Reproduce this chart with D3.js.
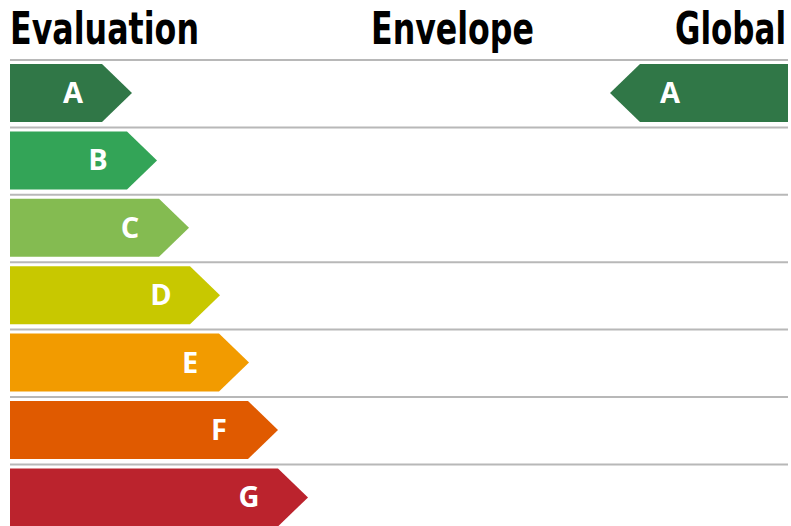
<!DOCTYPE html>
<html>
<head>
<meta charset="utf-8">
<script src="https://cdn.jsdelivr.net/npm/d3@7"></script>
<style>
  html, body { margin: 0; padding: 0; background: #fff; }
  svg { display: block; }
</style>
</head>
<body>
<svg id="chart" width="791" height="526"></svg>
<script>
// ---- data ----
const categories = ["A", "B", "C", "D", "E", "F", "G"];
const barLengths = [122, 147, 179, 210, 239, 268, 298];   // arrow extent from left edge
const colors = ["#307747", "#33a457", "#84bb51", "#c8c800", "#f29b00", "#e05a00", "#bb232d"];
const headers = ["Evaluation", "Envelope", "Global"];
const globalRating = "A";

// ---- layout ----
const W = 791, H = 526;
const leftX = 10, rightX = 788;
const topY = 60, rowStep = 67.4;
const svg = d3.select("#chart");

const y = d3.scaleBand()
  .domain(categories)
  .range([topY, topY + rowStep * categories.length])
  .paddingInner(0).paddingOuter(0);

const x = d3.scaleLinear().domain([0, rightX - leftX]).range([leftX, rightX]);

const barTopPad = 4, barH = 58, tipDepth = 30;

// headers
const headerFont = "'Liberation Sans Narrow', 'DejaVu Sans Condensed', 'Arial Narrow', sans-serif";
const headerSpec = [
  { t: headers[0], x: 10, anchor: "start", len: 189 },
  { t: headers[1], x: 452.5, anchor: "middle", len: 163 },
  { t: headers[2], x: 786, anchor: "end", len: 111 }
];
svg.selectAll("text.header").data(headerSpec).join("text")
  .attr("class", "header")
  .attr("x", d => d.x)
  .attr("y", 44)
  .attr("text-anchor", d => d.anchor)
  .attr("textLength", d => d.len)
  .attr("lengthAdjust", "spacingAndGlyphs")
  .style("font-family", headerFont)
  .style("font-weight", "bold")
  .style("font-size", "45px")
  .style("fill", "#000")
  .text(d => d.t);

// separator lines
svg.selectAll("line.sep").data(categories).join("line")
  .attr("class", "sep")
  .attr("x1", leftX).attr("x2", rightX)
  .attr("y1", d => y(d)).attr("y2", d => y(d))
  .attr("stroke", "#b8b8b8")
  .attr("stroke-width", 2);

// rating arrows (pointing right)
const rows = categories.map((c, i) => ({ c, len: barLengths[i], color: colors[i] }));

svg.selectAll("path.bar").data(rows).join("path")
  .attr("class", "bar")
  .attr("fill", d => d.color)
  .attr("d", d => {
    const y0 = y(d.c) + barTopPad, y1 = y0 + barH, ym = (y0 + y1) / 2;
    const tip = x(d.len), sh = tip - tipDepth;
    return `M${x(0)},${y0}L${sh},${y0}L${tip},${ym}L${sh},${y1}L${x(0)},${y1}Z`;
  });

const labelFont = "'Open Sans', 'DejaVu Sans', sans-serif";
svg.selectAll("text.lbl").data(rows).join("text")
  .attr("class", "lbl")
  .attr("x", d => x(d.len) - 59)
  .attr("y", d => y(d.c) + barTopPad + barH / 2 + 10)
  .attr("text-anchor", "middle")
  .style("font-family", labelFont)
  .style("font-weight", "bold")
  .style("font-size", "29px")
  .style("fill", "#fff")
  .text(d => d.c);

// global rating arrow (pointing left)
const gi = categories.indexOf(globalRating);
const g = svg.append("g");
{
  const y0 = y(globalRating) + barTopPad, y1 = y0 + barH, ym = (y0 + y1) / 2;
  const tip = 610, sh = tip + tipDepth;
  g.append("path")
    .attr("fill", colors[gi])
    .attr("d", `M${rightX},${y0}L${sh},${y0}L${tip},${ym}L${sh},${y1}L${rightX},${y1}Z`);
  g.append("text")
    .attr("x", tip + 60)
    .attr("y", ym + 10)
    .attr("text-anchor", "middle")
    .style("font-family", labelFont)
    .style("font-weight", "bold")
    .style("font-size", "29px")
    .style("fill", "#fff")
    .text(globalRating);
}
</script>
</body>
</html>
